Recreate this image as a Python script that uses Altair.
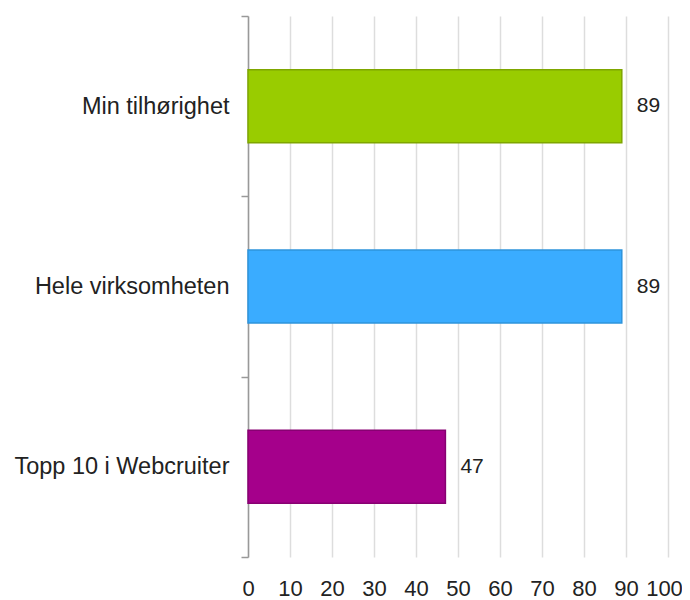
import altair as alt
import pandas as pd

categories = ["Min tilhørighet", "Hele virksomheten", "Topp 10 i Webcruiter"]
values = [89, 89, 47]
fills = ["#99CC00", "#3AACFF", "#A5008B"]
strokes = ["#7FA600", "#2E94DC", "#880072"]

df = pd.DataFrame({"cat": categories, "val": values, "fill": fills, "stroke": strokes})

FONT = "Liberation Sans"

y = alt.Y("cat:N", sort=categories, title=None,
          scale=alt.Scale(paddingInner=0, paddingOuter=0),
          axis=alt.Axis(domainColor="#999999", domainWidth=1.5, tickColor="#999999",
                        tickWidth=1.5, tickSize=7, tickBand="extent", labelPadding=12,
                        labelFontSize=23.5, labelFont=FONT, labelColor="#222222",
                        grid=False, labelLimit=300))

x = alt.X("val:Q", title=None,
          scale=alt.Scale(domain=[0, 100], nice=False),
          axis=alt.Axis(values=list(range(0, 101, 10)), domain=False, ticks=False,
                        grid=True, gridColor="#dddddd", gridWidth=1.5,
                        labelPadding=21, labelFontSize=22, labelFont=FONT,
                        labelColor="#222222", labelFlush=False,
                        labelOffset={"condition": {"test": "datum.value == 100", "value": -4},
                                     "value": 0}))

bars = alt.Chart(df).mark_bar(strokeWidth=1.5, height={"band": 0.405}).encode(
    x=x, y=y,
    fill=alt.Fill("fill:N", scale=None),
    stroke=alt.Stroke("stroke:N", scale=None),
)

labels = alt.Chart(df).mark_text(align="left", baseline="middle", dx=15,
                                 fontSize=21, font=FONT, color="#222222").encode(
    x="val:Q", y=alt.Y("cat:N", sort=categories), text="val:Q"
)

chart = (bars + labels).properties(
    width=420, height=541,
    autosize=alt.AutoSizeParams(type="none"),
    padding={"left": 240, "top": 8, "right": 14, "bottom": 44},
).configure_view(stroke=None)

chart.save("out.html", embed_options={"renderer": "svg", "actions": False})
